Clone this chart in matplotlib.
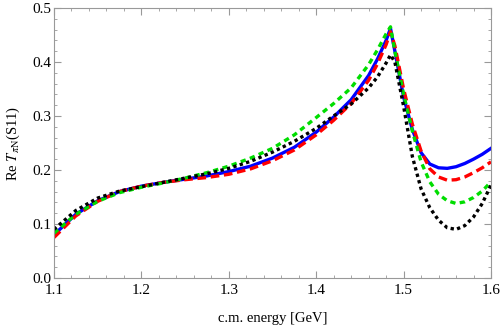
import numpy as np
from matplotlib import pyplot as plt
from matplotlib.ticker import MultipleLocator

plt.rcParams['font.family'] = ['Liberation Serif', 'DejaVu Serif']
plt.rcParams['mathtext.fontset'] = 'stix'

energy = [1.10, 1.125, 1.15, 1.175, 1.2, 1.225, 1.25, 1.275, 1.3, 1.325, 1.35,
          1.375, 1.4, 1.42, 1.44, 1.46, 1.47, 1.48, 1.485, 1.49, 1.5, 1.51,
          1.52, 1.53, 1.54, 1.55, 1.56, 1.57, 1.58, 1.59, 1.6]

blue = [0.080, 0.118, 0.143, 0.160, 0.170, 0.177, 0.183, 0.189, 0.197, 0.207,
        0.222, 0.242, 0.270, 0.298, 0.330, 0.375, 0.405, 0.440, 0.462, 0.420,
        0.335, 0.275, 0.232, 0.211, 0.204, 0.203, 0.206, 0.212, 0.220, 0.229,
        0.240]
red = [0.075, 0.115, 0.142, 0.160, 0.170, 0.177, 0.182, 0.186, 0.192, 0.202,
       0.217, 0.237, 0.265, 0.292, 0.323, 0.366, 0.396, 0.432, 0.456, 0.430,
       0.350, 0.285, 0.235, 0.202, 0.187, 0.181, 0.182, 0.187, 0.195, 0.204,
       0.215]
green = [0.083, 0.118, 0.142, 0.158, 0.168, 0.176, 0.185, 0.195, 0.207, 0.222,
         0.240, 0.265, 0.297, 0.323, 0.352, 0.395, 0.422, 0.452, 0.465, 0.420,
         0.340, 0.272, 0.215, 0.178, 0.155, 0.143, 0.138, 0.141, 0.149, 0.161,
         0.178]
black = [0.090, 0.125, 0.148, 0.161, 0.169, 0.177, 0.185, 0.193, 0.203, 0.216,
         0.233, 0.253, 0.277, 0.300, 0.322, 0.352, 0.372, 0.398, 0.413, 0.400,
         0.318, 0.225, 0.165, 0.130, 0.107, 0.093, 0.090, 0.097, 0.113, 0.138,
         0.172]

fig = plt.figure(figsize=(5, 3.29), dpi=100)
ax = fig.add_axes([0.108, 0.155, 0.874, 0.821])

lw = 2.4
ax.plot(energy, blue, color='#0000ff', lw=lw)
ax.plot(energy, red, color='#ff0000', lw=lw, dashes=(2.6, 1.4))
ax.plot(energy, green, color='#00dd00', lw=lw, dashes=(1.6, 1.3))
ax.plot(energy, black, color='black', lw=lw, dashes=(1.0, 1.0))

ax.set_xlim(1.1, 1.6)
ax.set_ylim(0.0, 0.5)
ax.xaxis.set_major_locator(MultipleLocator(0.1))
ax.xaxis.set_minor_locator(MultipleLocator(0.02))
ax.yaxis.set_major_locator(MultipleLocator(0.1))
ax.yaxis.set_minor_locator(MultipleLocator(0.02))
ax.set_xticklabels([f'{v:.1f}' for v in ax.get_xticks()])
ax.set_yticklabels([f'{v:.1f}' for v in ax.get_yticks()])

for s in ax.spines.values():
    s.set_color('#999999')
    s.set_linewidth(0.8)
ax.tick_params(which='both', direction='in', top=True, right=True,
               color='#999999', labelsize=11)
ax.tick_params(axis='y', pad=2)
ax.tick_params(axis='x', pad=4)
ax.tick_params(which='major', length=5)
ax.tick_params(which='minor', length=2.5)

ax.set_xlabel('c.m. energy [GeV]', fontsize=10.5, labelpad=11)
ax.set_ylabel(r'Re $T_{\pi\mathrm{N}}$(S11)', fontsize=10.5, labelpad=7)

fig.savefig('out.png', dpi=100)
